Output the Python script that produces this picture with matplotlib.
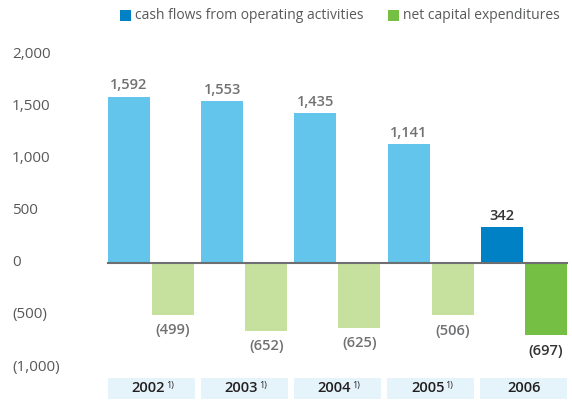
import matplotlib
matplotlib.use("Agg")
import matplotlib.pyplot as plt
from matplotlib.patches import Rectangle
from matplotlib.transforms import blended_transform_factory

years = ["2002", "2003", "2004", "2005", "2006"]
footnote = ["1)", "1)", "1)", "1)", ""]
cash_flows = [1592, 1553, 1435, 1141, 342]
capex = [-499, -652, -625, -506, -697]
yticks = [2000, 1500, 1000, 500, 0, -500, -1000]
ytick_labels = ["2,000", "1,500", "1,000", "500", "0", "(500)", "(1,000)"]

def fmt(v):
    s = f"{abs(v):,}"
    return f"({s})" if v < 0 else s

plt.rcParams['font.family'] = ['Open Sans', 'DejaVu Sans']

W, H = 572, 401
fig = plt.figure(figsize=(W / 100, H / 100), dpi=100)
ax = fig.add_axes([0, 0, 1, 1])
ax.set_axis_off()

unit_px = 93.2
center0_px = 151
val_px = 0.1043
zero_px = 262.7
ax.set_xlim((0 - center0_px) / unit_px, (W - center0_px) / unit_px)
ax.set_ylim((zero_px - H) / val_px, zero_px / val_px)

bw = 42 / unit_px
gap = 2 / unit_px / 2

light_blue = "#64c5ec"
dark_blue = "#0080c5"
light_green = "#c6e09e"
dark_green = "#74bf44"
grey_text = "#707173"

n = len(years)
for i in range(n):
    last = (i == n - 1)
    cb = dark_blue if last else light_blue
    cg = dark_green if last else light_green
    ax.bar(i - gap - bw / 2, cash_flows[i], width=bw, color=cb, zorder=2)
    ax.bar(i + gap + bw / 2, capex[i], width=bw, color=cg, zorder=2)
    lc = "#333333" if last else grey_text
    ax.annotate(fmt(cash_flows[i]), (i - gap - bw / 2, cash_flows[i]),
                xytext=(0, 3), textcoords="offset points", ha="center", va="bottom",
                fontsize=10.5, fontweight="semibold", color=lc)
    ax.annotate(fmt(capex[i]), (i + gap + bw / 2, capex[i]),
                xytext=(0, -6), textcoords="offset points", ha="center", va="top",
                fontsize=10.5, fontweight="semibold", color=lc)

# zero line
ax.plot([-gap - bw - 0.005, n - 1 + gap + bw], [0, 0], color="#6d6e71", lw=1.5, zorder=3)

# y tick labels
tr = blended_transform_factory(fig.transFigure, ax.transData)
for v, lab in zip(yticks, ytick_labels):
    ax.text(12 / W, v, lab, transform=tr, ha="left", va="center",
            fontsize=11, color="#58595b")

# year boxes
trb = blended_transform_factory(ax.transData, fig.transFigure)
box_w = 87 / unit_px
for i, y in enumerate(years):
    ax.add_patch(Rectangle((i - box_w / 2, 1 - 399 / H), box_w, 21 / H,
                           transform=trb, facecolor="#e5f4fb", edgecolor="none", zorder=1))
    shift = -0.03 if footnote[i] else 0
    t = ax.text(i + shift, 1 - 388.5 / H, y, transform=trb, ha="center", va="center",
                fontsize=10.5, fontweight="semibold", color="#231f20")
    if footnote[i]:
        ax.annotate(footnote[i], xy=(1, 1), xycoords=t, xytext=(0.5, 0.5), textcoords="offset points",
                    ha="left", va="top", fontsize=6.5, color="#231f20")

# legend
def legend_item(x_px, color, label):
    fig.patches.append(Rectangle((x_px / W, 1 - 21 / H), 11 / W, 11 / H,
                                 transform=fig.transFigure, facecolor=color, edgecolor="none"))
    fig.text((x_px + 15) / W, 1 - 15.5 / H, label, ha="left", va="center",
             fontsize=10, color="#58595b")

legend_item(120, dark_blue, "cash flows from operating activities")
legend_item(388, dark_green, "net capital expenditures")

fig.savefig("out.png", dpi=100)
